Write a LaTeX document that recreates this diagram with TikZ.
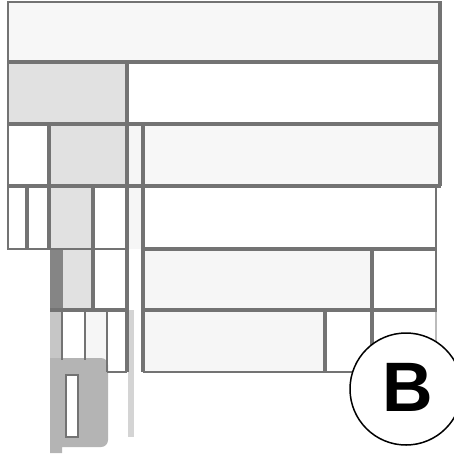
\documentclass[tikz,border=0pt]{standalone}
\usepackage{fontspec}
\newfontfamily\labelfont{Liberation Sans}
\definecolor{ln}{HTML}{737373}
\definecolor{topfill}{HTML}{F7F7F7}
\definecolor{cellgray}{HTML}{E1E1E1}
\definecolor{paleg}{HTML}{F6F6F6}
\definecolor{darkstrip}{HTML}{858585}
\definecolor{midstrip}{HTML}{C6C6C6}
\definecolor{blob}{HTML}{B4B4B4}
\definecolor{thinstrip}{HTML}{D4D4D4}
\definecolor{lightln}{HTML}{BBBBBB}
\begin{document}
\begin{tikzpicture}[x=1pt,y=-1pt,
  heavy/.style={draw=ln,line width=3.5pt},
  medium/.style={draw=ln,line width=2.5pt},
  slim/.style={draw=ln,line width=2pt},
  faint/.style={draw=lightln,line width=1.5pt}]
\useasboundingbox (0,0) rectangle (454,453);
\fill[white] (0,0) rectangle (454,453);
% fills
\fill[topfill] (7,1) rectangle (441,62);
\fill[cellgray] (7,62) rectangle (127,124);
\fill[cellgray] (49,124) rectangle (127,186);
\fill[paleg] (127,124) rectangle (143,186);
\fill[topfill] (143,124) rectangle (441,186);
\fill[cellgray] (49,186) rectangle (93,249);
\fill[paleg] (127,186) rectangle (143,249);
\fill[darkstrip] (50,249) rectangle (63,310);
\fill[cellgray] (63,249) rectangle (93,310);
\fill[midstrip] (50,310) rectangle (62,453);
\fill[paleg] (85,310) rectangle (107,360);
\fill[thinstrip] (128,310) rectangle (134,437);
\fill[blob] (50,453) -- (50,358) [rounded corners=7pt] -- (108,358) -- (108,447) [sharp corners] -- (62,447) -- (62,453) -- cycle;
\fill[paleg] (143,249) rectangle (372,310);
\fill[paleg] (143,310) rectangle (325,372);
% inner white bar
\draw[draw=ln,line width=1.2pt,fill=white] (66,375) rectangle (78,437);
% outer borders
\draw[slim] (7,1.5) -- (441,1.5);
\draw[slim] (7.5,1) -- (7.5,249);
\draw[heavy] (440,1) -- (440,186);
\draw[medium] (436,186) -- (436,310);
\draw[faint] (436,310) -- (436,372);
\draw[faint] (372,372) -- (436,372);
% horizontal lines
\draw[heavy] (7,62) -- (441,62);
\draw[heavy] (7,124) -- (441,124);
\draw[heavy] (7,186) -- (441,186);
\draw[medium] (7,249) -- (127,249);
\draw[heavy] (143,249) -- (437,249);
\draw[heavy] (50,310) -- (127,310);
\draw[heavy] (143,310) -- (437,310);
\draw[slim] (143,372) -- (372,372);
\draw[slim] (107,372) -- (127,372);
% vertical lines
\draw[heavy] (127,62) -- (127,372);
\draw[heavy] (143,124) -- (143,372);
\draw[heavy] (49,124) -- (49,249);
\draw[heavy] (27,186) -- (27,249);
\draw[heavy] (93,186) -- (93,310);
\draw[heavy] (372,249) -- (372,372);
\draw[heavy] (325,310) -- (325,372);
\draw[slim] (62,310) -- (62,360);
\draw[slim] (85,310) -- (85,360);
\draw[slim] (107,310) -- (107,372);
% badge
\node[circle, draw=black, line width=1.5pt, fill=white, minimum size=112pt, inner sep=0pt] (badge) at (406,389) {};
\node[inner sep=0pt, font=\labelfont\bfseries\fontsize{70}{70}\selectfont] (label) at (408,387) {B};
\end{tikzpicture}
\end{document}
